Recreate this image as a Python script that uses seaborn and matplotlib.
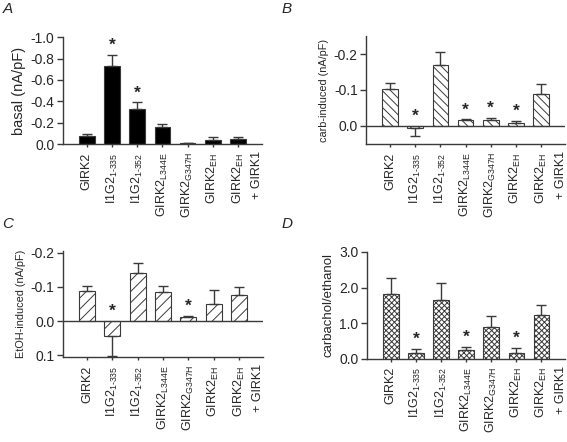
import numpy as np
import pandas as pd
import matplotlib
matplotlib.use('Agg')
import matplotlib.pyplot as plt
from matplotlib import font_manager
import seaborn as sns

# --- data (negative = inward current, plotted upward) ---
constructs = ['GIRK2', 'I1G2$_{1\u2010335}$', 'I1G2$_{1\u2010352}$', 'GIRK2$_{L344E}$',
              'GIRK2$_{G347H}$', 'GIRK2$_{EH}$', 'GIRK2$_{EH}$']

basal = [-0.075, -0.73, -0.33, -0.16, -0.01, -0.04, -0.045]
basal_err = [0.015, 0.10, 0.06, 0.025, 0.0, 0.03, 0.02]
basal_sig = [1, 2]

carb = [-0.102, 0.006, -0.170, -0.015, -0.016, -0.0075, -0.088]
carb_err = [0.018, 0.023, 0.036, 0.003, 0.007, 0.005, 0.029]
carb_sig = [1, 3, 4, 5]

etoh = [-0.087, 0.043, -0.141, -0.086, -0.0135, -0.051, -0.076]
etoh_err = [0.016, 0.058, 0.030, 0.017, 0.003, 0.041, 0.024]
etoh_sig = [1, 4]

ratio = [1.82, 0.16, 1.65, 0.25, 0.89, 0.16, 1.23]
ratio_err = [0.44, 0.11, 0.47, 0.08, 0.31, 0.14, 0.27]
ratio_sig = [1, 3, 5]

# --- fonts ---
sns.set_style('ticks')
try:
    font_manager.findfont('Liberation Sans Narrow', fallback_to_default=False)
    narrow = 'Liberation Sans Narrow'
except Exception:
    narrow = 'Liberation Sans'
plt.rcParams['font.family'] = ['Liberation Sans', 'DejaVu Sans']
plt.rcParams['mathtext.fontset'] = 'custom'
plt.rcParams['mathtext.rm'] = narrow
plt.rcParams['mathtext.it'] = narrow
plt.rcParams['mathtext.default'] = 'rm'
plt.rcParams['hatch.linewidth'] = 0.7

GRAY = '#3a3a3a'


def panel(ax, vals, errs, sig, ylabel, ylab_size, ylim, yticks, inverted, color, hatch, zero_line):
    df = pd.DataFrame({'construct': range(len(vals)), 'value': vals})
    sns.barplot(data=df, x='construct', y='value', ax=ax, color=color, saturation=1,
                edgecolor=GRAY, linewidth=0.8, width=0.62, hatch=hatch, errorbar=None)
    x = np.arange(len(vals))
    v = np.array(vals)
    e = np.array(errs)
    lower = np.where(v < 0, e, 0)
    upper = np.where(v >= 0, e, 0)
    ax.errorbar(x, v, yerr=[lower, upper], fmt='none', ecolor=GRAY, elinewidth=1,
                capsize=3.5, capthick=1)
    tips = v + np.sign(v) * e
    for i in sig:
        top = min(tips[i], 0) if inverted else max(tips[i], 0)
        ax.annotate('*', xy=(i, top), xytext=(0, 1.5), textcoords='offset points',
                    ha='center', va='bottom', fontsize=12.5, fontweight='bold')
    if zero_line:
        ax.axhline(0, color=GRAY, lw=1)
    ax.set_xlim(-0.95, 6.95)
    ax.set_ylim(*ylim)
    ax.set_yticks(yticks)
    ax.set_yticklabels(['0.0' if abs(t) < 1e-9 else f'{t:.1f}' for t in yticks], fontsize=10)
    ax.set_xticks(x)
    ax.set_xticklabels(constructs, rotation=90, fontsize=9, family=[narrow, 'DejaVu Sans'])
    ax.annotate('+ GIRK1', xy=(6, 0), xycoords=('data', 'axes fraction'),
                xytext=(14, -5), textcoords='offset points', rotation=90,
                ha='center', va='top', fontsize=9, family=[narrow, 'DejaVu Sans'])
    ax.set_xlabel('')
    ax.set_ylabel(ylabel, fontsize=ylab_size, family=[narrow, 'DejaVu Sans'], labelpad=3)
    sns.despine(ax=ax)
    for s in ['left', 'bottom']:
        ax.spines[s].set_color(GRAY)
        ax.spines[s].set_linewidth(1)
    ax.tick_params(axis='y', length=4, width=1, color=GRAY, pad=2)
    ax.tick_params(axis='x', length=2, width=1, color=GRAY, pad=4)


fig = plt.figure(figsize=(5.67, 4.42), dpi=100)
axA = fig.add_axes([0.111, 0.674, 0.351, 0.242])
axB = fig.add_axes([0.6455, 0.674, 0.351, 0.244])
axC = fig.add_axes([0.111, 0.192, 0.353, 0.240])
axD = fig.add_axes([0.647, 0.188, 0.350, 0.242])

panel(axA, basal, basal_err, basal_sig, 'basal (nA/pF)', 10.5, (0.0, -1.0),
      [-1.0, -0.8, -0.6, -0.4, -0.2, 0.0], True, 'black', None, False)
panel(axB, carb, carb_err, carb_sig, 'carb-induced (nA/pF)', 7.8, (0.051, -0.25),
      [-0.2, -0.1, 0.0], True, 'white', '\\\\\\\\', True)
panel(axC, etoh, etoh_err, etoh_sig, 'EtOH-induced (nA/pF)', 7.8, (0.105, -0.205),
      [-0.2, -0.1, 0.0, 0.1], True, 'white', '///', True)
panel(axD, ratio, ratio_err, ratio_sig, 'carbachol/ethanol', 9.5, (0.0, 3.0),
      [0.0, 1.0, 2.0, 3.0], False, 'white', 'xxxxxx', False)

for lbl, xx, yy in [('A', 0.004, 0.995), ('B', 0.497, 0.995), ('C', 0.004, 0.51), ('D', 0.497, 0.51)]:
    fig.text(xx, yy, lbl, style='italic', fontsize=11, va='top', ha='left')

fig.savefig('out.png', dpi=100)
